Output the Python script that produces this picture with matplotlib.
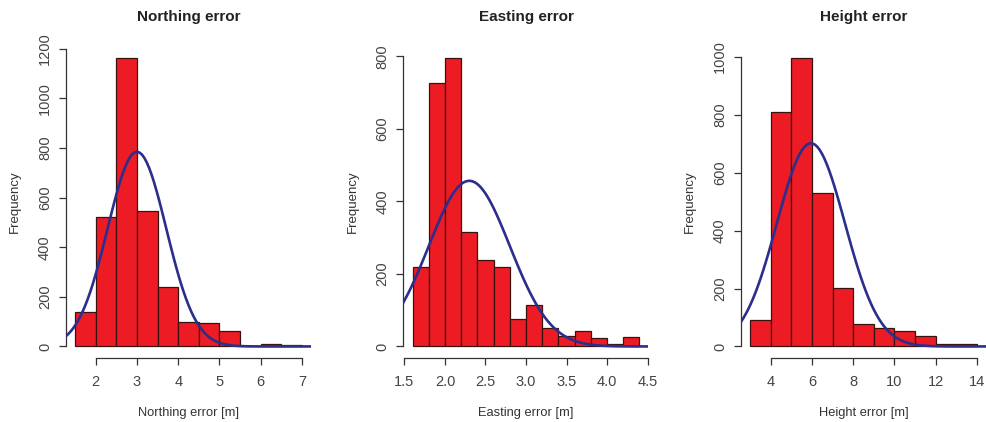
import matplotlib.pyplot as plt
import numpy as np

plt.rcParams['font.family'] = ['Liberation Sans', 'DejaVu Sans']

# histogram bins (left edge of first bin, bin width) and counts
north_start, north_width = 1.5, 0.5
north_counts = [140, 520, 1165, 548, 240, 100, 95, 62, 0, 8, 4]
east_start, east_width = 1.6, 0.2
east_counts = [220, 728, 797, 317, 238, 220, 76, 115, 50, 30, 43, 23, 7, 27]
height_start, height_width = 3.0, 1.0
height_counts = [92, 810, 998, 531, 201, 78, 62, 54, 37, 7, 8]

# fitted normal curve: mean, sd, peak height
north_fit = (3.0, 0.71, 785)
east_fit = (2.30, 0.50, 457)
height_fit = (5.95, 1.65, 702)

titles = ['Northing error', 'Easting error', 'Height error']
xlabels = ['Northing error [m]', 'Easting error [m]', 'Height error [m]']
xticks = [[2, 3, 4, 5, 6, 7], [1.5, 2.0, 2.5, 3.0, 3.5, 4.0, 4.5], [4, 6, 8, 10, 12, 14]]
xticklabels = [['2', '3', '4', '5', '6', '7'],
               ['1.5', '2.0', '2.5', '3.0', '3.5', '4.0', '4.5'],
               ['4', '6', '8', '10', '12', '14']]
yticks = [[0, 200, 400, 600, 800, 1000, 1200], [0, 200, 400, 600, 800],
          [0, 200, 400, 600, 800, 1000]]

panels = [(north_start, north_width, north_counts, north_fit),
          (east_start, east_width, east_counts, east_fit),
          (height_start, height_width, height_counts, height_fit)]

fig = plt.figure(figsize=(9.87, 4.22), dpi=100)
lefts = [66, 403.5, 741]
axw, axh, axb = 245, 312, 64

for i, (start, width, counts, fit) in enumerate(panels):
    ax = fig.add_axes([lefts[i] / 987, axb / 422, axw / 987, axh / 422])
    counts = np.array(counts)
    edges = start + width * np.arange(len(counts) + 1)
    ax.bar(edges[:-1], counts, width=width, align='edge', color='#ED1C24',
           edgecolor='#3a1212', linewidth=0.9, zorder=2)

    lo, hi = edges[0], edges[-1]
    pad = 0.04 * (hi - lo)
    xlim = (lo - pad, hi + pad)
    ymax = counts.max()
    ax.set_xlim(xlim)
    ax.set_ylim(-0.04 * ymax, 1.04 * ymax)

    mu, sd, peak = fit
    xs = np.linspace(xlim[0], xlim[1], 101)
    ax.plot(xs, peak * np.exp(-(xs - mu) ** 2 / (2 * sd ** 2)), color='#2B2E8C',
            linewidth=1.9, zorder=3)

    for s in ['top', 'right']:
        ax.spines[s].set_visible(False)
    for s in ['left', 'bottom']:
        ax.spines[s].set_color('#333333')
        ax.spines[s].set_linewidth(0.9)
    ax.spines['left'].set_bounds(yticks[i][0], yticks[i][-1])
    ax.spines['bottom'].set_bounds(xticks[i][0], xticks[i][-1])

    ax.set_xticks(xticks[i])
    ax.set_xticklabels(xticklabels[i])
    ax.set_yticks(yticks[i])
    ax.set_yticklabels([str(v) for v in yticks[i]], rotation=90, va='center')
    ax.tick_params(length=5, width=0.9, color='#333333', labelsize=10.5,
                   labelcolor='#444444', pad=5)
    ax.tick_params(axis='x', pad=7.5)

    ax.set_title(titles[i], fontsize=11, fontweight='bold', color='#222222',
                 y=1.093, va='center', pad=0)
    ax.set_xlabel(xlabels[i], fontsize=9.3, color='#333333', va='center')
    ax.xaxis.set_label_coords(0.5, -0.176)
    ax.set_ylabel('Frequency', fontsize=9.5, color='#333333', va='center')
    ax.yaxis.set_label_coords(-0.208, 0.5)

fig.savefig('out.png', dpi=100)
